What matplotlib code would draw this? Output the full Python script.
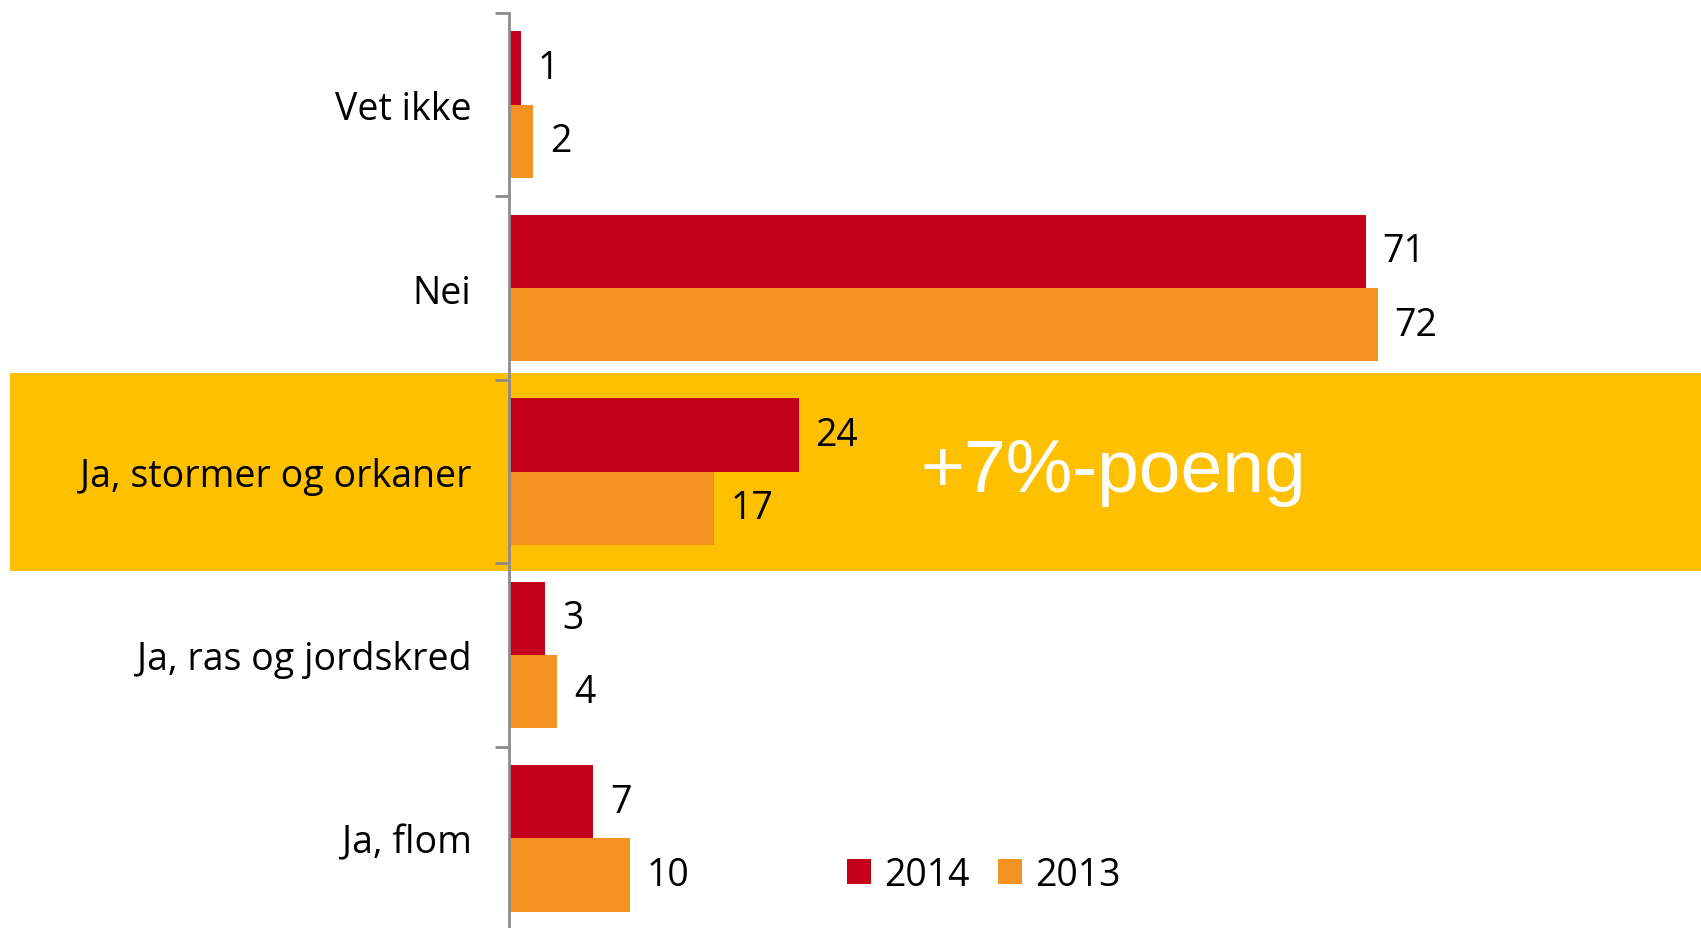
import matplotlib.pyplot as plt
import matplotlib.transforms as mtransforms
from matplotlib.patches import Rectangle
import numpy as np

# data (top to bottom as in the chart)
kategorier = ['Vet ikke', 'Nei', 'Ja, stormer og orkaner', 'Ja, ras og jordskred', 'Ja, flom']
verdier_2014 = [1, 71, 24, 3, 7]
verdier_2013 = [2, 72, 17, 4, 10]
aar = ['2014', '2013']

rod = '#C5001A'
oransje = '#F39221'
gul = '#FFC000'
graa = '#8C8C8C'

plt.rcParams['font.family'] = ['Open Sans', 'DejaVu Sans']

fig = plt.figure(figsize=(17.01, 9.29), dpi=100)
ax = fig.add_axes([509 / 1701, -2 / 929, 1 - 509 / 1701, 917 / 929])
ax.set_facecolor('none')

n = len(kategorier)
y = np.arange(n)[::-1]  # Vet ikke øverst
h = 0.4

ax.barh(y + h / 2, verdier_2014, height=h, color=rod, label=aar[0], zorder=2)
ax.barh(y - h / 2, verdier_2013, height=h, color=oransje, label=aar[1], zorder=2)

for yi, v1, v2 in zip(y, verdier_2014, verdier_2013):
    ax.text(v1 + 1.4, yi + h / 2, str(v1), va='center', ha='left', fontsize=27)
    ax.text(v2 + 1.4, yi - h / 2, str(v2), va='center', ha='left', fontsize=27)

ax.set_xlim(0, 98.8)
ax.set_ylim(-0.5, n - 0.5)

# gult felt bak "Ja, stormer og orkaner"
idx = kategorier.index('Ja, stormer og orkaner')
yb = y[idx]
trans = mtransforms.blended_transform_factory(fig.transFigure, ax.transData)
fig.patches.append(Rectangle((10 / 1701, yb - 0.545), 1, 1.08, transform=trans,
                             facecolor=gul, edgecolor='none', zorder=-5))
ax.text(0.507, yb, '+7%-poeng', transform=mtransforms.blended_transform_factory(ax.transAxes, ax.transData),
        ha='center', va='center', color='white', fontsize=54, family='Liberation Sans', zorder=3)

# akser
for s in ['top', 'right', 'bottom']:
    ax.spines[s].set_visible(False)
ax.spines['left'].set_color(graa)
ax.spines['left'].set_linewidth(2)
ax.set_xticks([])
ax.set_yticks(y)
ax.set_yticklabels(kategorier, fontsize=27)
ax.tick_params(axis='y', which='major', length=0, pad=27)
ax.set_yticks(np.arange(n + 1) - 0.5, minor=True)
ax.tick_params(axis='y', which='minor', length=10, width=2, color=graa)

ax.legend(loc='center left', bbox_to_anchor=(0.255, 0.06), frameon=False, ncol=2, fontsize=27,
          handlelength=0.65, handleheight=0.65, handletextpad=0.35, columnspacing=0.75)

fig.savefig('out.png', dpi=100)
